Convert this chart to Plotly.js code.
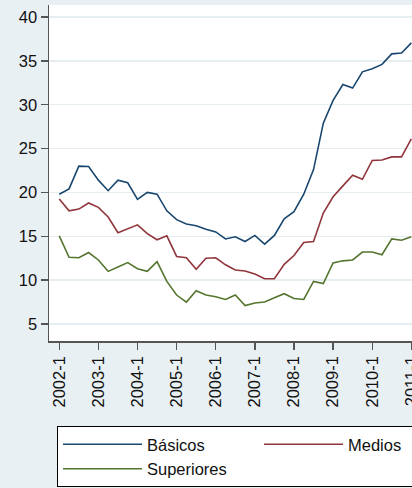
<!DOCTYPE html>
<html>
<head>
<meta charset="utf-8">
<script src="https://cdn.plot.ly/plotly-3.0.1.min.js"></script>
<style>
html,body{margin:0;padding:0;overflow:hidden;background:#e9f0f3;width:412px;height:488px;}
#chart{width:480px;height:500px;}
</style>
</head>
<body>
<div id="chart"></div>
<script>
// Quarters 2002-1 .. 2011-1
const years = [2002,2003,2004,2005,2006,2007,2008,2009,2010,2011];
const quarters = [];
years.forEach(y => { for (let q = 1; q <= 4; q++) { if (y < 2011 || q === 1) quarters.push(y + '-' + q); } });
const tickLabels = ['2002-1','2003-1','2004-1','2005-1','2006-1','2007-1','2008-1','2009-1','2010-1','2011-1'];

const basicos = [19.8, 20.4, 23.0, 22.95, 21.4, 20.2, 21.4, 21.1, 19.2, 20.0,
                 19.8, 17.9, 16.9, 16.4, 16.2, 15.8, 15.5, 14.7, 14.95, 14.4,
                 15.1, 14.1, 15.1, 17.0, 17.8, 19.8, 22.6, 27.9, 30.5, 32.3,
                 31.9, 33.75, 34.1, 34.6, 35.8, 35.9, 37.05];
const medios = [19.25, 17.9, 18.1, 18.8, 18.3, 17.2, 15.4, 15.85, 16.3, 15.3,
                14.6, 15.05, 12.7, 12.55, 11.25, 12.5, 12.55, 11.75, 11.15, 11.05,
                10.7, 10.15, 10.15, 11.8, 12.8, 14.3, 14.4, 17.65, 19.5, 20.75,
                21.95, 21.5, 23.65, 23.7, 24.05, 24.05, 26.1];
const superiores = [15.05, 12.6, 12.55, 13.15, 12.3, 11.0, 11.5, 12.0, 11.3, 11.0,
                    12.1, 9.85, 8.3, 7.5, 8.8, 8.3, 8.1, 7.8, 8.3, 7.1,
                    7.4, 7.5, 8.0, 8.45, 7.9, 7.8, 9.85, 9.6, 11.95, 12.2,
                    12.3, 13.2, 13.2, 12.9, 14.7, 14.55, 14.95];
const seriesNames = ['Básicos', 'Medios', 'Superiores'];
const colors = ['#1a476f', '#90353b', '#55752f'];
const yTicks = [5, 10, 15, 20, 25, 30, 35, 40];

const font = {family: '"Liberation Sans", Arial, Helvetica, sans-serif', size: 16.5, color: '#111'};
const data = [basicos, medios, superiores].map((vals, i) => ({
  type: 'scatter', mode: 'lines', x: quarters, y: vals, name: seriesNames[i],
  line: {color: colors[i], width: 1.6}
}));

const layout = {
  width: 480, height: 500,
  margin: {l: 49, r: 10, t: 5, b: 159},
  paper_bgcolor: '#e9f0f3', plot_bgcolor: '#ffffff',
  font: font,
  showlegend: true,
  xaxis: {
    type: 'category', categoryorder: 'array', categoryarray: quarters,
    range: [-1.05, 42.0],
    tickmode: 'array', tickvals: tickLabels, ticktext: tickLabels,
    tickangle: -90, ticks: 'outside', ticklen: 7, tickwidth: 1.3, tickcolor: '#555',
    showline: true, linecolor: '#555', linewidth: 1.5,
    showgrid: false, zeroline: false, tickfont: font
  },
  yaxis: {
    range: [3.06, 41.37],
    tickmode: 'array', tickvals: yTicks, ticktext: yTicks.map(String),
    ticks: 'outside', ticklen: 7, tickwidth: 1.3, tickcolor: '#555',
    showline: true, linecolor: '#555', linewidth: 1.5,
    showgrid: true, gridcolor: '#e6eef1', gridwidth: 1.5,
    zeroline: false, tickfont: font
  },
  legend: {
    orientation: 'h', x: 0.019, xanchor: 'left', y: -0.253, yanchor: 'top',
    bgcolor: '#ffffff', bordercolor: '#000', borderwidth: 1,
    entrywidth: 107, itemwidth: 79, font: font, traceorder: 'normal'
  }
};

Plotly.newPlot('chart', data, layout, {staticPlot: true, displayModeBar: false});
</script>
</body>
</html>
